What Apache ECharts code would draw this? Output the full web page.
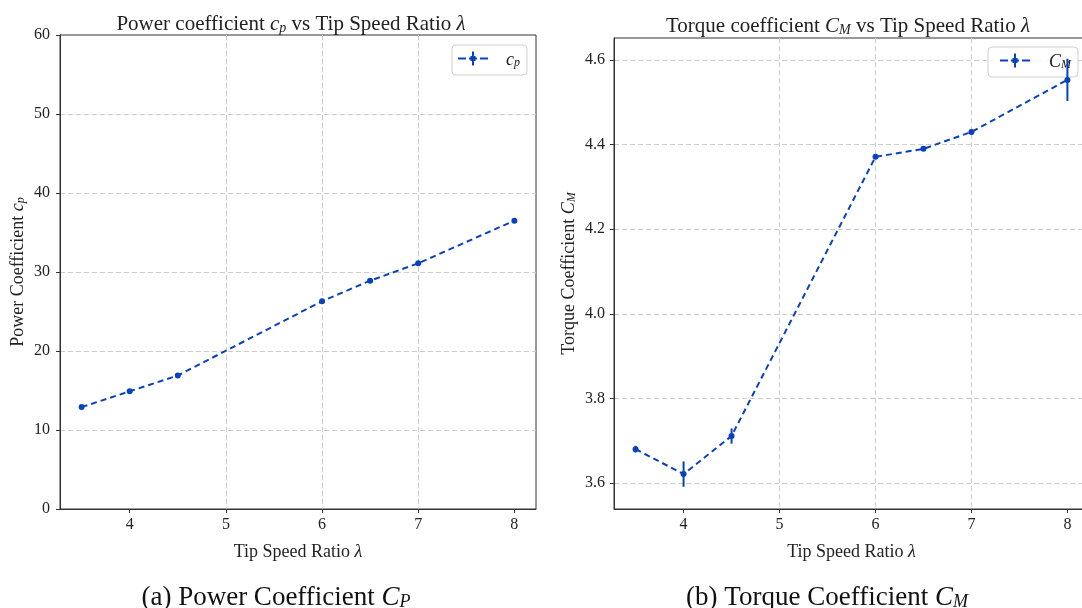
<!DOCTYPE html>
<html><head><meta charset="utf-8">
<script src="https://cdn.jsdelivr.net/npm/echarts@6/dist/echarts.min.js"></script>
<style>html,body{margin:0;padding:0;background:#fff}#c{width:1082px;height:608px}</style>
</head><body><div id="c"></div>
<script>
const tsr = [3.5, 4, 4.5, 6, 6.5, 7, 8];
const cp = [12.9, 14.9, 16.9, 26.3, 28.9, 31.1, 36.5];
const cpErr = [0.2, 0.2, 0.2, 0.2, 0.2, 0.2, 0.3];
const cm = [3.68, 3.621, 3.711, 4.371, 4.39, 4.43, 4.553];
const cmErr = [0.008, 0.03, 0.018, 0.004, 0.004, 0.006, 0.05];
const xTicks = [4, 5, 6, 7, 8];

const BLUE = '#0a42bd';
const SERIF = 'Liberation Serif';
const chart = echarts.init(document.getElementById('c'));

function pts(xs, ys) { return xs.map((x, i) => [x, ys[i]]); }
function errPts(xs, ys, es) { return xs.map((x, i) => [x, ys[i], es[i]]); }

function errRender(params, api) {
  const x = api.value(0), y = api.value(1), e = api.value(2);
  const a = api.coord([x, y + e]);
  const b = api.coord([x, y - e]);
  return { type: 'line', shape: { x1: a[0], y1: a[1], x2: b[0], y2: b[1] },
           style: { stroke: BLUE, lineWidth: 2 } };
}

function mkRich(big, small, lh, col) {
  return {
    i: { fontFamily: SERIF, fontStyle: 'italic', fontWeight: 'normal', fontSize: big, color: col, lineHeight: lh, verticalAlign: 'bottom' },
    s: { fontFamily: SERIF, fontStyle: 'italic', fontWeight: 'normal', fontSize: small, color: col, lineHeight: Math.round(lh * 0.7), verticalAlign: 'bottom' },
    n: { fontFamily: SERIF, fontWeight: 'normal', fontSize: big, color: col, lineHeight: lh, verticalAlign: 'bottom' },
    sp: { width: 12 }
  };
}
const richMath = mkRich(21, 14, 25, '#222');
const richAx = mkRich(18, 12, 21, '#222');
const richCap = mkRich(27, 18, 32, '#111');

const gridLine = { show: true, showMinLine: false, showMaxLine: false, lineStyle: { color: '#cccccc', type: [5, 3], width: 1 } };

function xAxis(gi) {
  return {
    type: 'value', gridIndex: gi, min: 3.275, max: 8.225,
    name: '{n|Tip Speed Ratio }{i|λ}', nameLocation: 'middle', nameGap: 31,
    nameTextStyle: { rich: richAx },
    axisLine: { show: true, lineStyle: { color: '#333' } },
    axisTick: { show: true, inside: false, length: 4, customValues: xTicks, lineStyle: { color: '#333' } },
    axisLabel: { fontFamily: SERIF, fontSize: 16, color: '#222', margin: 8, customValues: xTicks,
      formatter: v => String(v) },
    splitLine: gridLine
  };
}

const legendIcon = 'path://M0,6h8v2h-8z M11,6h8v2h-8z M22,6h8v2h-8z M14,0h2v14h-2z M12.5,4.5h5v5h-5z';

const option = {
  animation: false,
  backgroundColor: '#ffffff',
  title: [
    { text: '{n|Power coefficient }{i|c}{s|p}{n| vs Tip Speed Ratio }{i|λ}', left: 286, top: 5, textAlign: 'center', textStyle: { fontWeight: 'normal', rich: richMath } },
    { text: '{n|Torque coefficient }{i|C}{s|M}{n| vs Tip Speed Ratio }{i|λ}', left: 843, top: 7, textAlign: 'center', textStyle: { fontWeight: 'normal', rich: richMath } },
    { text: '{n|(a) Power Coefficient }{i|C}{s|P}', left: 271, top: 574, textAlign: 'center', textStyle: { fontWeight: 'normal', rich: richCap } },
    { text: '{n|(b) Torque Coefficient }{i|C}{s|M}', left: 822, top: 574, textAlign: 'center', textStyle: { fontWeight: 'normal', rich: richCap } }
  ],
  grid: [
    { left: 60, top: 35, width: 476, height: 474, outerBoundsMode: 'none', containLabel: false, show: true, borderColor: '#333', borderWidth: 1, backgroundColor: 'transparent' },
    { left: 614, top: 38, width: 475, height: 471, outerBoundsMode: 'none', containLabel: false, show: true, borderColor: '#333', borderWidth: 1, backgroundColor: 'transparent' }
  ],
  xAxis: [xAxis(0), xAxis(1)],
  yAxis: [
    { type: 'value', gridIndex: 0, min: 0, max: 60, interval: 10,
      name: '{n|Power Coefficient }{i|c}{s|p}', nameLocation: 'middle', nameGap: 33, nameRotate: 90,
      nameTextStyle: { rich: richAx },
      axisLine: { show: true, lineStyle: { color: '#333' } },
      axisTick: { show: true, length: 4, lineStyle: { color: '#333' } },
      axisLabel: { fontFamily: SERIF, fontSize: 16, color: '#222', margin: 10 },
      splitLine: gridLine },
    { type: 'value', gridIndex: 1, min: 3.5385, max: 4.652,
      name: '{n|Torque Coefficient }{i|C}{s|M}', nameLocation: 'middle', nameGap: 36, nameRotate: 90,
      nameTextStyle: { rich: richAx },
      axisLine: { show: true, lineStyle: { color: '#333' } },
      axisTick: { show: true, length: 4, lineStyle: { color: '#333' } },
      axisLabel: { fontFamily: SERIF, fontSize: 16, color: '#222', margin: 9, showMinLabel: false, showMaxLabel: false,
        formatter: v => v.toFixed(1) },
      splitLine: gridLine }
  ],
  legend: [
    { data: ['cp'], right: 1082 - 527, top: 45, orient: 'vertical',
      icon: legendIcon, itemWidth: 32, itemHeight: 14, itemGap: 6,
      backgroundColor: 'rgba(255,255,255,0.8)', borderColor: '#d0d0d0', borderWidth: 1, borderRadius: 4,
      padding: [6, 7, 6, 6],
      formatter: () => '{sp|}{i|c}{s|p}',
      textStyle: { rich: richAx } },
    { data: ['CM'], right: 1082 - 1078, top: 47, orient: 'vertical',
      icon: legendIcon, itemWidth: 34, itemHeight: 14, itemGap: 6,
      backgroundColor: 'rgba(255,255,255,0.8)', borderColor: '#d0d0d0', borderWidth: 1, borderRadius: 4,
      padding: [6, 7, 6, 12],
      formatter: () => '{sp|}{i|C}{s|M}',
      textStyle: { rich: richAx } }
  ],
  series: [
    { name: 'cp', type: 'line', xAxisIndex: 0, yAxisIndex: 0, data: pts(tsr, cp),
      symbol: 'circle', symbolSize: 6, color: BLUE,
      lineStyle: { color: BLUE, width: 2, type: [6, 4] }, itemStyle: { color: BLUE }, z: 5 },
    { name: 'cpErr', type: 'custom', xAxisIndex: 0, yAxisIndex: 0, data: errPts(tsr, cp, cpErr),
      encode: { x: 0, y: 1 }, renderItem: errRender, z: 6 },
    { name: 'CM', type: 'line', xAxisIndex: 1, yAxisIndex: 1, data: pts(tsr, cm),
      symbol: 'circle', symbolSize: 6, color: BLUE,
      lineStyle: { color: BLUE, width: 2, type: [6, 4] }, itemStyle: { color: BLUE }, z: 5 },
    { name: 'CMErr', type: 'custom', xAxisIndex: 1, yAxisIndex: 1, data: errPts(tsr, cm, cmErr),
      encode: { x: 0, y: 1 }, renderItem: errRender, z: 6 }
  ]
};
chart.setOption(option);
</script>
</body></html>
